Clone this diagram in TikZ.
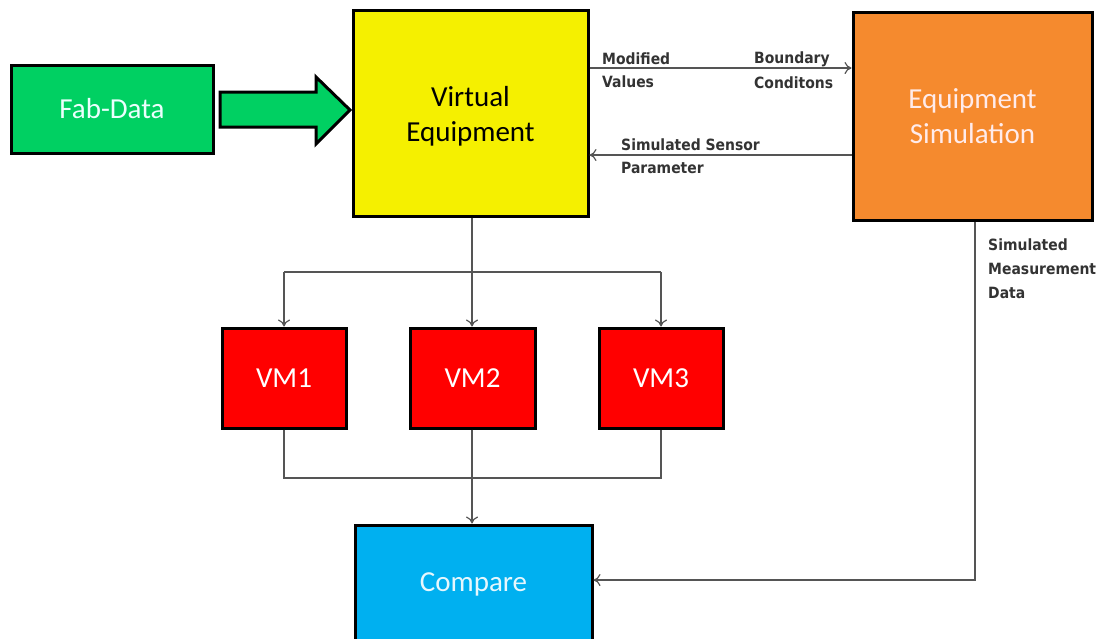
\documentclass[tikz,border=0pt]{standalone}
\usepackage{fontspec}
\setmainfont{Carlito}
\newfontfamily\labfont{DejaVu Sans Condensed}
\usetikzlibrary{arrows.meta}
\definecolor{cgreen}{HTML}{00D062}
\definecolor{cyellow}{HTML}{F5F000}
\definecolor{corange}{HTML}{F58A2E}
\definecolor{cred}{HTML}{FF0000}
\definecolor{cblue}{HTML}{00B0F0}
\definecolor{cline}{HTML}{555555}
\tikzset{
  boxfont/.style={font=\fontsize{29}{35}\selectfont, align=center},
  box/.style={draw=black, line width=3pt, inner sep=0pt, boxfont},
  conn/.style={draw=cline, line width=1.2pt, -{To[length=7pt,width=12pt]}},
  plain/.style={draw=cline, line width=1.2pt},
  lab/.style={font=\labfont\fontsize{15.5}{17}\selectfont\bfseries, text=black!80, anchor=west, inner sep=0pt, align=left},
}
\begin{document}
\begin{tikzpicture}[x=1pt,y=-1pt]
\useasboundingbox (0,0) rectangle (1106,638);
% boxes
\node[box, fill=cgreen, text=green!10!cyan!8!white, minimum width=202pt, minimum height=88pt] (fab) at (112,109) {Fab-Data};
\node[box, fill=cyellow, minimum width=235pt, minimum height=206pt,
  label={[boxfont, text=black, inner sep=0pt, yshift=-3.5pt]center:{Virtual\\Equipment}}] (ve) at (470.5,113) {};
\node[box, fill=corange, text=white!92!red, minimum width=239pt, minimum height=208pt] (es) at (972.5,116) {Equipment\\Simulation};
\node[box, fill=cred, text=white, minimum width=124pt, minimum height=100pt] (vm1) at (284,378) {VM1};
\node[box, fill=cred, text=white, minimum width=125pt, minimum height=100pt] (vm2) at (472.5,378) {VM2};
\node[box, fill=cred, text=white, minimum width=124pt, minimum height=100pt] (vm3) at (661,378) {VM3};
\node[box, fill=cblue, text=white!90!cyan, minimum width=237pt, minimum height=118pt] (cmp) at (473.5,584) {Compare};
% big arrow
\draw[draw=black, line width=3pt, fill=cgreen, line join=miter]
  (220,92) -- (316,92) -- (316,77) -- (350,110) -- (316,144) -- (316,127) -- (220,127) -- cycle;
% top connectors
\coordinate (m1) at (ve.east |- 0,68);
\coordinate (m2) at (es.west |- 0,68);
\draw[conn] (m1) -- (m2);
\coordinate (s1) at (es.west |- 0,155);
\coordinate (s2) at (ve.east |- 0,155);
\draw[conn] (s1) -- (s2);
\node[lab] (lmod) at (602,59) {Modified};
\node[lab] (lval) at (602,82) {Values};
\node[lab] (lbnd) at (754,59) {Boundary};
\node[lab] (lcon) at (754,83) {Conditons};
\node[lab] (lsim) at (621,145) {Simulated Sensor};
\node[lab] (lpar) at (621,168) {Parameter};
% VE to VMs
\coordinate (b0) at (472,272);
\coordinate (b1) at (vm1.north |- b0);
\coordinate (b3) at (vm3.north |- b0);
\draw[plain] (ve.south -| b0) -- (b0);
\draw[plain] (b1) -- (b3);
\draw[conn] (b1) -- (vm1.north);
\draw[conn] (b0) -- (vm2.north -| b0);
\draw[conn] (b3) -- (vm3.north);
% VMs to compare
\coordinate (c0) at (472,478);
\coordinate (c1) at (vm1.south |- c0);
\coordinate (c3) at (vm3.south |- c0);
\draw[plain] (vm1.south) -- (c1) -- (c3) -- (vm3.south);
\draw[conn] (vm2.south -| c0) -- (cmp.north -| c0);
% measurement data
\coordinate (d0) at (975,580);
\draw[conn] (es.south -| d0) -- (d0) -- (cmp.east |- d0);
\node[lab] (lm1) at (988,245) {Simulated};
\node[lab] (lm2) at (988,269) {Measurement};
\node[lab] (lm3) at (988,293) {Data};
\end{tikzpicture}
\end{document}
